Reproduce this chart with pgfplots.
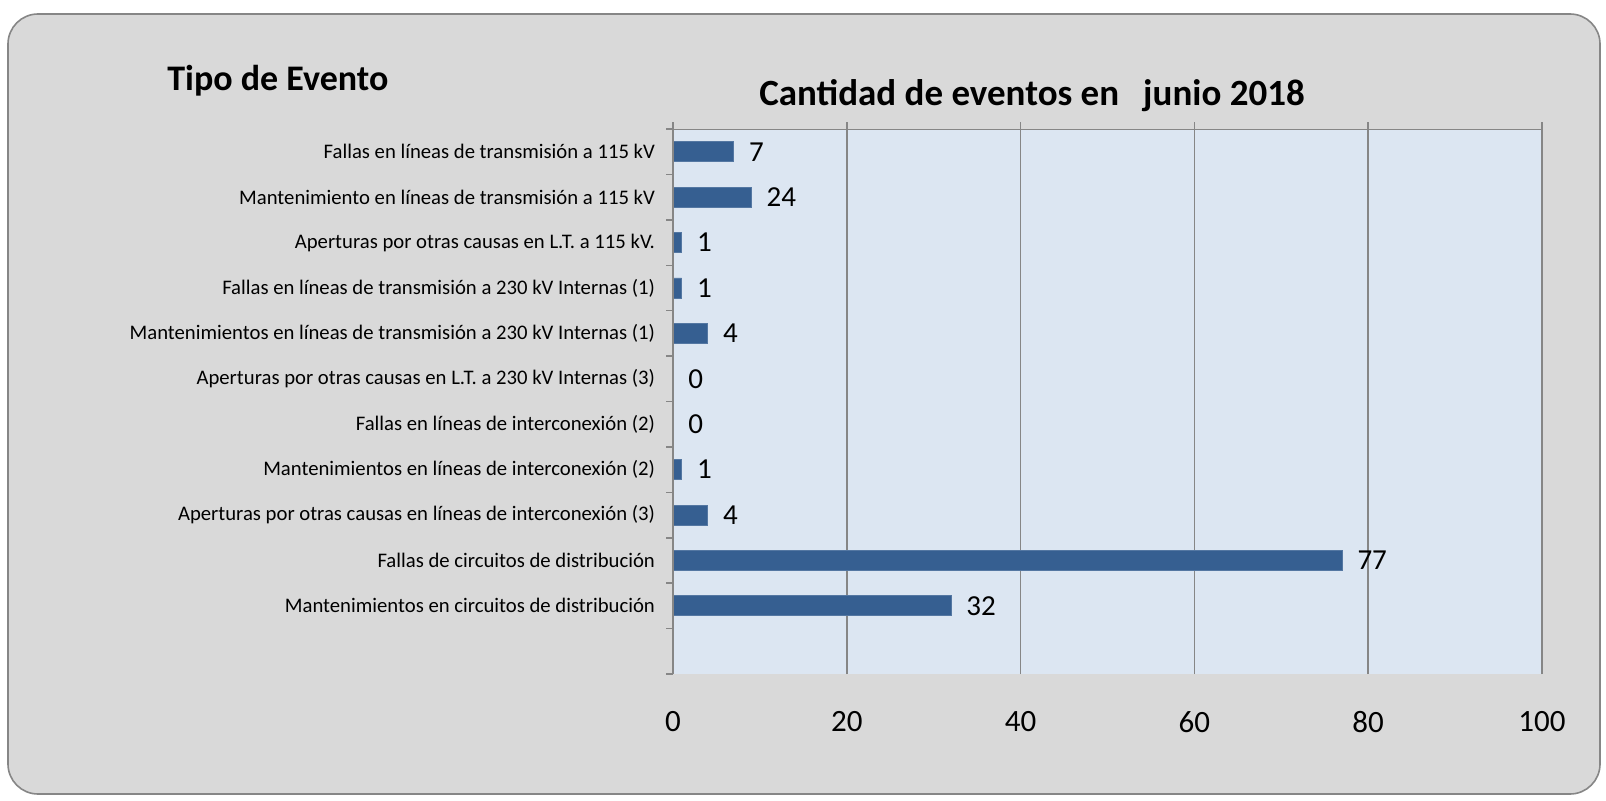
\documentclass[border=0pt]{standalone}
\usepackage{fontspec}
\setmainfont{Carlito}
\usepackage{pgfplots}
\pgfplotsset{compat=1.18}
\usepackage{pgfplotstable}
\definecolor{bgGray}{HTML}{D9D9D9}
\definecolor{plotBlue}{HTML}{DCE6F2}
\definecolor{barBlue}{HTML}{365F91}
\definecolor{lineGray}{HTML}{868686}
\pgfplotstableread{
c v lab
12 7 7
11 9 24
10 1 1
9 1 1
8 4 4
7 0 0
6 0 0
5 1 1
4 4 4
3 77 77
2 32 32
}\data
\begin{document}
\begin{tikzpicture}
\path[use as bounding box] (0,0) rectangle (803pt,400pt);
\draw[lineGray, line width=0.8pt, fill=bgGray, rounded corners=15pt] (4pt,3pt) rectangle (800pt,393pt);
\node[anchor=base west, inner sep=0pt, font=\fontsize{18}{22}\selectfont\bfseries] at (83.5pt,354.5pt) {Tipo de Evento};
\node[anchor=base, inner sep=0pt, font=\fontsize{18.5}{22}\selectfont\bfseries] at (516pt,347.5pt) {Cantidad de eventos en\hspace{12pt}junio 2018};
\begin{axis}[
  at={(336.5pt,63pt)}, anchor=south west,
  scale only axis, width=434.5pt, height=272.5pt,
  xmin=0, xmax=100, ymin=0.5, ymax=12.5,
  axis background/.style={fill=plotBlue},
  axis line style={draw=none},
  /pgf/number format/assume math mode=true,
  xtick={0,20,...,100}, xtick pos=upper, xticklabel pos=lower,
  xticklabel style={font=\fontsize{15.5}{18}\selectfont, anchor=center, yshift=-20.5pt},
  ytick={0.5,1.5,...,12.5}, yticklabels={}, ytick pos=left,
  tick align=outside, major tick length=3.5pt,
  every tick/.style={lineGray, line width=0.75pt},
  xmajorgrids=true, ymajorgrids=false,
  major grid style={lineGray, line width=0.75pt},
  extra y ticks={2,3,4,5,6,7,8,9,10,11,12},
  extra y tick labels={Mantenimientos en circuitos de distribución,Fallas de circuitos de distribución,Aperturas por otras causas en líneas de interconexión (3),Mantenimientos en líneas de interconexión (2),Fallas en líneas de interconexión (2),Aperturas por otras causas en L.T. a 230 kV Internas (3),Mantenimientos en líneas de transmisión a 230 kV Internas (1),Fallas en líneas de transmisión a 230 kV Internas (1),Aperturas por otras causas en L.T. a 115 kV.,Mantenimiento en líneas de transmisión a 115 kV,Fallas en líneas de transmisión a 115 kV},
  extra y tick style={major tick length=0pt, grid=none, yticklabel style={font=\fontsize{10.35}{12}\selectfont, xshift=-5.5pt}},
]
\addplot[xbar, bar width=0.44, bar shift=0pt, fill=barBlue, draw=barBlue!85!white, line width=0.4pt,
  point meta=explicit symbolic, nodes near coords,
  nodes near coords style={anchor=west, inner sep=0pt, xshift=7.5pt, font=\fontsize{14.5}{17}\selectfont, text=black}]
  table[x=v, y=c, meta=lab] {\data};
\draw[lineGray, line width=0.75pt] (rel axis cs:0,0) -- (rel axis cs:0,1) -- (rel axis cs:1,1);
\end{axis}
\end{tikzpicture}
\end{document}
